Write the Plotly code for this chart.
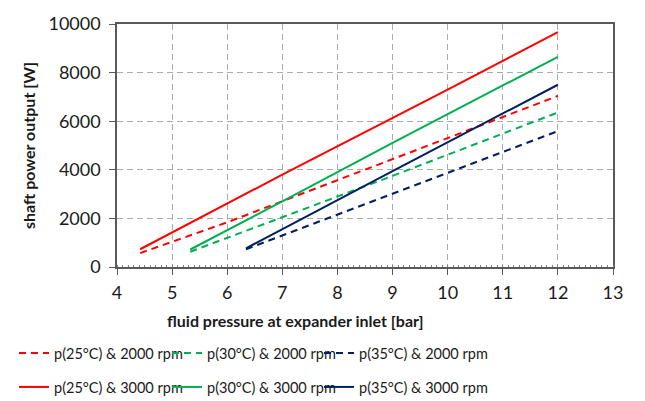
import plotly.graph_objects as go

# ---- data ----
red_dash_x = [4.42, 6, 9, 12]
red_dash_y = [570, 1840, 4440, 7040]
green_dash_x = [5.33, 9, 12]
green_dash_y = [630, 3750, 6360]
navy_dash_x = [6.34, 9, 10, 12]
navy_dash_y = [730, 3000, 3880, 5590]

red_solid_x = [4.42, 7, 10, 12]
red_solid_y = [730, 3800, 7300, 9670]
green_solid_x = [5.33, 7, 9, 12]
green_solid_y = [720, 2700, 5110, 8650]
navy_solid_x = [6.34, 9, 12]
navy_solid_y = [770, 3950, 7500]

names_2000 = ["p(25°C) & 2000 rpm", "p(30°C) & 2000 rpm", "p(35°C) & 2000 rpm"]
names_3000 = ["p(25°C) & 3000 rpm", "p(30°C) & 3000 rpm", "p(35°C) & 3000 rpm"]

x_ticks = list(range(4, 14))
y_ticks = [0, 2000, 4000, 6000, 8000, 10000]

RED = "#FF0000"
GREEN = "#00B050"
NAVY = "#002060"
FONT = "Lato"
TXT = "#1a1a1a"

fig = go.Figure()

dash_series = [(red_dash_x, red_dash_y, RED), (green_dash_x, green_dash_y, GREEN),
               (navy_dash_x, navy_dash_y, NAVY)]
solid_series = [(red_solid_x, red_solid_y, RED), (green_solid_x, green_solid_y, GREEN),
                (navy_solid_x, navy_solid_y, NAVY)]

# one single-item legend per entry, laid out as a 2x3 grid under the plot
legend_cols_px = [14, 167, 319]
legend_rows_px = [353, 387]
legend_ids = ["legend", "legend2", "legend3", "legend4", "legend5", "legend6"]

k = 0
for (xs, ys, c), n in zip(dash_series, names_2000):
    fig.add_trace(go.Scatter(x=xs, y=ys, mode="lines", name=n,
                             line=dict(color=c, width=2, dash="7px,5px"),
                             legend=legend_ids[k]))
    k += 1
for (xs, ys, c), n in zip(solid_series, names_3000):
    fig.add_trace(go.Scatter(x=xs, y=ys, mode="lines", name=n,
                             line=dict(color=c, width=2),
                             legend=legend_ids[k]))
    k += 1

axis_common = dict(
    showline=True, linecolor="#595959", linewidth=1.5, mirror=True,
    showgrid=True, gridcolor="#ababab", griddash="6px,4px", gridwidth=1,
    zeroline=False, ticks="outside", ticklen=6, tickcolor="#595959",
    tickfont=dict(family=FONT, size=18, color=TXT),
)

fig.update_xaxes(range=[4, 13], tickvals=x_ticks, ticklabelstandoff=3,
                 minor=dict(dtick=0.1, ticks="inside", ticklen=2, tickcolor="#7f7f7f"),
                 **axis_common)
fig.update_yaxes(range=[0, 10000], tickvals=y_ticks, tickformat="d",
                 ticklabelstandoff=5,
                 title=dict(text="<b>shaft power output [W]</b>", standoff=9,
                            font=dict(family=FONT, size=16, color=TXT)),
                 **axis_common)

fig.add_annotation(text="<b>fluid pressure at expander inlet [bar]</b>",
                   xref="paper", yref="paper", x=0.36, y=-0.22,
                   xanchor="center", yanchor="middle", showarrow=False,
                   font=dict(family=FONT, size=16, color=TXT))

legend_layout = {}
k = 0
for ry in legend_rows_px:
    for cx in legend_cols_px:
        legend_layout[legend_ids[k]] = dict(
            orientation="h", xref="container", yref="container",
            x=cx / 645, y=1 - ry / 401, xanchor="left", yanchor="middle",
            font=dict(family=FONT, size=14.5, color=TXT),
            bgcolor="rgba(0,0,0,0)", itemwidth=30)
        k += 1

fig.update_layout(
    width=645, height=401,
    margin=dict(l=117, r=32, t=13, b=134),
    paper_bgcolor="white", plot_bgcolor="white",
    showlegend=True,
    **legend_layout,
)

fig.write_html("out.html")
